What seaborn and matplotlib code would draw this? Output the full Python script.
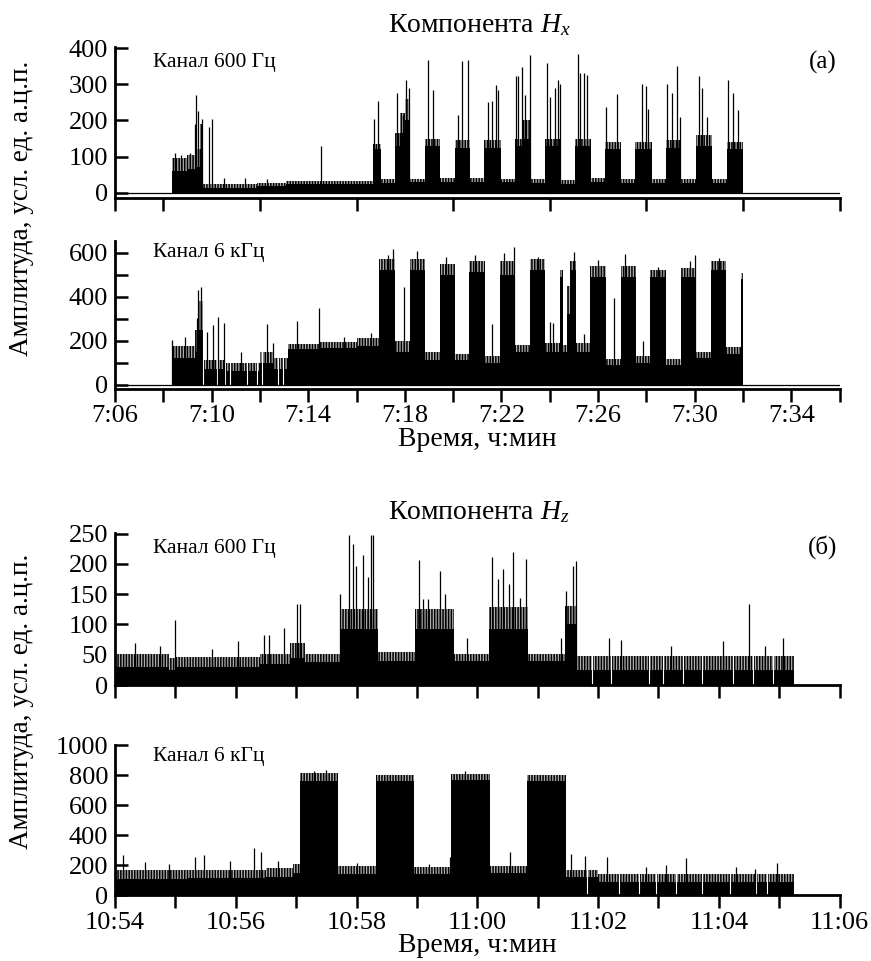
import numpy as np
import matplotlib
matplotlib.use("Agg")
import matplotlib.pyplot as plt
import seaborn as sns

# ---------------- data (minutes from axis start) ----------------
# Hx, 600 Hz channel (t from 7:06)
P1_T = [2.35, 3.0, 3.35, 3.5, 3.63, 5.9, 7.1, 10.7, 11.0, 11.6, 11.8, 12.0, 12.2, 12.84, 13.46,
        14.08, 14.7, 15.3, 15.97, 16.56, 16.85, 17.2, 17.8, 18.46, 19.05, 19.7, 20.29, 20.94,
        21.53, 22.22, 22.8, 23.44, 24.06, 24.7, 25.33, 25.99]
P1_BASE = [60, 65, 70, 120, 12, 18, 25, 120, 28, 130, 165, 200, 30, 130, 30, 125, 30, 125, 30,
           130, 150, 28, 130, 25, 130, 30, 120, 28, 120, 28, 125, 28, 130, 28, 120]
P1_TOP = [95, 105, 120, 190, 25, 28, 33, 135, 38, 165, 220, 260, 38, 150, 40, 145, 40, 145, 38,
          150, 200, 38, 150, 35, 150, 40, 140, 38, 140, 38, 145, 38, 160, 38, 140]
P1_SPIKE_T = [2.5, 2.75, 3.1, 3.30, 3.35, 3.45, 3.59, 3.9, 4.0, 4.5, 5.4, 6.3, 8.52, 10.72, 10.91,
              11.69, 11.94, 12.07, 12.19, 12.97, 13.18, 14.22, 14.35, 14.63, 15.46, 15.6, 15.78,
              15.87, 16.6, 16.7, 16.84, 16.98, 17.18, 17.9, 18.01, 18.22, 18.36, 18.43, 19.18,
              19.25, 19.42, 19.53, 20.32, 20.77, 21.81, 21.99, 22.08, 22.87, 23.05, 23.26, 23.39,
              24.2, 24.29, 24.53, 25.4, 25.6, 25.81]
P1_SPIKE_V = [110, 105, 110, 190, 270, 225, 205, 183, 205, 42, 40, 38, 128, 205, 255,
              275, 214, 311, 290, 367, 285, 214, 364, 367, 250, 255, 297,
              285, 322, 322, 348, 270, 380, 358, 265, 290, 311, 300, 385,
              330, 330, 325, 237, 274, 302, 295, 233, 302, 275, 350, 210,
              322, 289, 210, 311, 275, 228]
P1_DIP_T = []

# Hx, 6 kHz channel (t from 7:06)
P2_T = [2.35, 3.3, 3.45, 3.63, 4.6, 6.0, 6.6, 7.18, 8.5, 10.0, 10.95, 11.6, 12.2, 12.84, 13.46,
        14.08, 14.67, 15.32, 15.94, 16.56, 17.18, 17.8, 18.43, 18.57, 18.7, 18.85, 19.09, 19.67,
        20.33, 20.94, 21.57, 22.15, 22.81, 23.42, 24.06, 24.67, 25.3, 25.93, 25.99]
P2_BASE = [120, 150, 250, 70, 60, 100, 70, 160, 165, 175, 520, 150, 520, 110, 500, 110, 510, 100,
           500, 150, 520, 150, 490, 150, 320, 520, 150, 490, 90, 490, 100, 490, 90, 490, 120, 520,
           140, 480]
P2_TOP = [175, 250, 380, 110, 100, 150, 120, 185, 195, 210, 570, 200, 570, 150, 550, 140, 560, 130,
          560, 180, 570, 190, 520, 180, 450, 560, 190, 540, 115, 540, 130, 520, 115, 530, 150, 560,
          170, 507]
P2_SPIKE_T = [2.37, 2.9, 3.38, 3.45, 3.56, 3.8, 4.07, 4.28, 4.53, 5.2, 6.28, 6.56, 7.52, 8.45, 9.5,
              10.6, 11.3, 11.5, 11.97, 12.5, 13.7, 14.9, 15.6, 16.1, 16.53, 17.5, 18.0, 18.15, 19.0,
              19.4, 20.0, 20.68, 21.12, 21.85, 22.5, 23.8, 24.02, 25.0]
P2_SPIKE_V = [202, 215, 302, 430, 445, 240, 270, 308, 280, 150, 275, 188, 289, 349, 215,
              234, 590, 615, 445, 605, 580, 590, 275, 600, 626, 580, 286, 280, 604,
              230, 566, 393, 592, 198, 535, 560, 589, 575]
P2_DIP_T = [3.66, 4.21, 4.55, 4.76, 5.45, 5.87, 6.07, 6.76, 6.97]

# Hz, 600 Hz channel (t from 10:54)
P3_T = [0, 0.9, 1.0, 2.4, 2.9, 3.15, 3.72, 4.36, 4.97, 5.61, 6.2, 6.84, 7.46, 7.65, 11.24]
P3_BASE = [30, 25, 30, 35, 45, 38, 92, 40, 92, 40, 92, 40, 100, 25]
P3_TOP = [52, 45, 46, 52, 70, 52, 125, 55, 125, 52, 128, 52, 130, 48]
P3_SPIKE_T = [0.33, 0.75, 0.99, 1.6, 2.03, 2.47, 2.55, 2.8, 3.02, 3.07, 3.73, 3.87, 3.95, 3.99,
              4.1, 4.19, 4.24, 4.28, 5.03, 5.1, 5.19, 5.39, 5.46, 5.83, 6.24, 6.34, 6.42, 6.52,
              6.6, 6.71, 6.81, 7.38, 7.47, 7.58, 7.63, 8.18, 8.38, 9.21, 10.07, 10.5, 10.76, 11.06]
P3_SPIKE_V = [69, 64, 108, 60, 72, 83, 83, 94, 134, 134, 150, 247, 233, 197,
              214, 178, 247, 247, 207, 142, 142, 188, 150, 78, 211, 175, 192, 167,
              219, 144, 208, 78, 155, 197, 205, 78, 75, 64, 72, 133, 64, 78]
P3_DIP_T = [7.9, 8.21, 8.85, 9.07, 9.4, 9.73, 10.23, 10.57, 10.9]

# Hz, 6 kHz channel (t from 10:54)
P4_T = [0, 1.2, 2.5, 2.95, 3.07, 3.70, 4.33, 4.95, 5.57, 6.21, 6.82, 7.47, 8.0, 11.24]
P4_BASE = [110, 115, 120, 150, 760, 140, 760, 140, 770, 150, 760, 120, 85]
P4_TOP = [165, 170, 180, 205, 815, 195, 805, 190, 810, 195, 800, 165, 140]
P4_SPIKE_T = [0.14, 0.5, 0.9, 1.33, 1.47, 1.9, 2.3, 2.41, 2.7, 3.3, 3.5, 4.0, 5.2, 5.55, 5.8,
              6.55, 7.56, 7.78, 8.15, 8.8, 9.12, 9.46, 10.29, 10.6, 10.96]
P4_SPIKE_V = [265, 220, 210, 255, 270, 230, 314, 288, 230, 830, 835, 215, 205, 254, 830,
              288, 277, 261, 254, 190, 199, 248, 188, 175, 215]
P4_DIP_T = [7.82, 8.35, 8.68, 8.96, 9.29, 9.73, 10.18, 10.62, 10.8]

# ticks / labels
X_HX_TICKS = list(range(0, 31, 2))
X_HX_LABELS = ["7:06", "", "7:10", "", "7:14", "", "7:18", "", "7:22", "", "7:26", "",
               "7:30", "", "7:34", ""]
X_HX_TOP_TICKS = [0, 2, 6, 10, 14, 18, 22, 26, 30]
X_HZ_TICKS = list(range(0, 13))
X_HZ_LABELS = ["10:54", "", "10:56", "", "10:58", "", "11:00", "", "11:02", "", "11:04", "", "11:06"]
Y1_TICKS = [0, 100, 200, 300, 400]
Y2_TICKS = [0, 100, 200, 300, 400, 500, 600]
Y2_LABELS = ["0", "", "200", "", "400", "", "600"]
Y3_TICKS = [0, 50, 100, 150, 200, 250]
Y4_TICKS = [0, 200, 400, 600, 800, 1000]

# ---------------- style ----------------
sns.set_theme(style="ticks")
plt.rcParams.update({
    "font.family": ["Liberation Serif", "DejaVu Serif"],
    "mathtext.fontset": "custom",
    "mathtext.rm": "Liberation Serif",
    "mathtext.it": "Liberation Serif:italic",
    "axes.edgecolor": "black",
    "xtick.color": "black",
    "ytick.color": "black",
    "text.color": "black",
    "hatch.linewidth": 1.1,
    "hatch.color": "black",
})

W, H = 871, 961
fig = plt.figure(figsize=(W / 100, H / 100), dpi=100)


def add_ax(top_px, bottom_px):
    left, right = 115, 839.5
    return fig.add_axes([left / W, 1 - bottom_px / H, (right - left) / W, (bottom_px - top_px) / H])


ax1 = add_ax(47, 197.5)
ax2 = add_ax(240.5, 388.5)
ax3 = add_ax(533, 685)
ax4 = add_ax(745, 895)

TICK_FS = 19


def draw(ax, T, BASE, TOP, ST, SV, DT, xmax, ylim, baseline):
    t = np.array(T, dtype=float)
    base = np.r_[BASE, BASE[-1]]
    top = np.r_[TOP, TOP[-1]]
    ax.fill_between(t, base, top, step="post", facecolor="#b0b0b0", edgecolor="black",
                    hatch="||||||", lw=0)
    ax.fill_between(t, 0, base, step="post", color="black", lw=0)
    if len(DT):
        ax.vlines(DT, 0, ylim[1], color="white", lw=0.8)
    ax.vlines(ST, 0, SV, color="black", lw=0.9)
    if baseline:
        sns.lineplot(x=[0, xmax], y=[0, 0], ax=ax, color="black", lw=0.9)
    ax.set_xlim(0, xmax)
    ax.set_ylim(*ylim)
    for s in ("top", "right"):
        ax.spines[s].set_visible(False)
    for s in ("left", "bottom"):
        ax.spines[s].set_linewidth(2)
    ax.tick_params(axis="y", direction="in", length=9, width=1.8, labelsize=TICK_FS, pad=5)
    ax.tick_params(axis="x", direction="out", length=9, width=1.8, labelsize=TICK_FS, pad=3)
    ax.set_xlabel("")
    ax.set_ylabel("")


draw(ax1, P1_T, P1_BASE, P1_TOP, P1_SPIKE_T, P1_SPIKE_V, P1_DIP_T, 30, (-13, 403), True)
draw(ax2, P2_T, P2_BASE, P2_TOP, P2_SPIKE_T, P2_SPIKE_V, P2_DIP_T, 30, (-18, 655), True)
draw(ax3, P3_T, P3_BASE, P3_TOP, P3_SPIKE_T, P3_SPIKE_V, P3_DIP_T, 12, (0, 251), False)
draw(ax4, P4_T, P4_BASE, P4_TOP, P4_SPIKE_T, P4_SPIKE_V, P4_DIP_T, 12, (0, 1003), False)

ax1.set_xticks(X_HX_TOP_TICKS)
ax1.set_xticklabels([])
ax1.set_yticks(Y1_TICKS)
ax2.set_xticks(X_HX_TICKS)
ax2.set_xticklabels(X_HX_LABELS)
ax2.set_yticks(Y2_TICKS)
ax2.set_yticklabels(Y2_LABELS)
ax3.set_xticks(X_HZ_TICKS)
ax3.set_xticklabels([])
ax3.set_yticks(Y3_TICKS)
ax4.set_xticks(X_HZ_TICKS)
ax4.set_xticklabels(X_HZ_LABELS)
ax4.set_yticks(Y4_TICKS)


def ftext(x, y, s, **kw):
    fig.text(x / W, 1 - y / H, s, **kw)


ftext(479, 25, "Компонента $H_x$", ha="center", va="center", fontsize=20)
ftext(479, 512, "Компонента $H_z$", ha="center", va="center", fontsize=20)
ftext(837, 62, "(а)", ha="right", va="center", fontsize=18)
ftext(837, 547, "(б)", ha="right", va="center", fontsize=18)
ftext(153, 62, "Канал 600 Гц", ha="left", va="center", fontsize=15.5)
ftext(153, 253, "Канал 6 кГц", ha="left", va="center", fontsize=15.5)
ftext(153, 548, "Канал 600 Гц", ha="left", va="center", fontsize=15.5)
ftext(153, 757, "Канал 6 кГц", ha="left", va="center", fontsize=15.5)
ftext(477, 440, "Время, ч:мин", ha="center", va="center", fontsize=20)
ftext(477, 945, "Время, ч:мин", ha="center", va="center", fontsize=20)
ftext(22, 208, "Амплитуда, усл. ед. а.ц.п.", ha="center", va="center", rotation=90, fontsize=19.5)
ftext(22, 701, "Амплитуда, усл. ед. а.ц.п.", ha="center", va="center", rotation=90, fontsize=19.5)

fig.savefig("out.png", dpi=100)
